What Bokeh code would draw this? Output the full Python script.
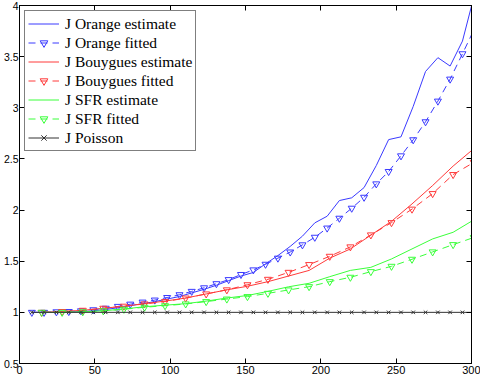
from bokeh.plotting import figure
from bokeh.models import (LinearAxis, FixedTicker, Legend, LegendItem, Range1d,
                          CustomLabelingPolicy)
from bokeh.embed import file_html
from bokeh.resources import INLINE

# ---- data ----
x_orange = [8.2, 16.3, 24.5, 32.7, 40.8, 49.0, 57.2, 65.3, 73.5, 81.7,
            89.8, 98.0, 106.2, 114.3, 122.5, 130.7, 138.8, 147.0, 155.2, 163.3,
            171.5, 179.7, 187.8, 196.0, 204.2, 212.3, 220.5, 228.7, 236.8, 245.0,
            253.2, 261.3, 269.5, 277.7, 285.8, 294.0, 302.2]
orange_estimate = [1.0, 1.0, 1.0, 1.003, 1.008, 1.015, 1.028, 1.045, 1.065, 1.085,
                   1.105, 1.13, 1.155, 1.19, 1.225, 1.265, 1.31, 1.355, 1.39, 1.474,
                   1.555, 1.645, 1.745, 1.875, 1.94, 2.093, 2.12, 2.22, 2.435, 2.689,
                   2.716, 3.013, 3.355, 3.49, 3.408, 3.652, 4.12]
orange_fitted = [1.0, 1.0, 1.005, 1.008, 1.015, 1.025, 1.04, 1.058, 1.08, 1.1,
                 1.12, 1.145, 1.172, 1.205, 1.24, 1.28, 1.32, 1.37, 1.415, 1.47,
                 1.53, 1.59, 1.66, 1.734, 1.824, 1.92, 2.018, 2.125, 2.256, 2.377,
                 2.53, 2.687, 2.863, 3.065, 3.28, 3.528, 3.78]

x_bs = [14.7, 28.3, 42.0, 55.6, 69.3, 83.0, 96.6, 110.3, 123.9, 137.6, 151.3,
        164.9, 178.6, 192.2, 205.9, 219.6, 233.2, 246.9, 260.5, 274.2, 287.8, 301.5]
bouygues_estimate = [1.0, 1.008, 1.02, 1.04, 1.06, 1.085, 1.11, 1.14, 1.18, 1.22, 1.255,
                     1.30, 1.355, 1.41, 1.53, 1.62, 1.755, 1.89, 2.06, 2.24, 2.43, 2.60]
bouygues_fitted = [1.0, 1.008, 1.02, 1.04, 1.06, 1.082, 1.105, 1.14, 1.18, 1.22, 1.27,
                   1.323, 1.391, 1.467, 1.548, 1.64, 1.757, 1.877, 2.009, 2.161, 2.347, 2.466]
sfr_estimate = [1.0, 1.0, 1.005, 1.015, 1.033, 1.055, 1.07, 1.085, 1.11, 1.14, 1.165,
                1.205, 1.25, 1.284, 1.349, 1.41, 1.44, 1.522, 1.62, 1.718, 1.783, 1.904]
sfr_fitted = [1.0, 1.0, 1.005, 1.015, 1.03, 1.05, 1.065, 1.082, 1.105, 1.13, 1.154,
              1.186, 1.219, 1.251, 1.30, 1.343, 1.398, 1.45, 1.519, 1.591, 1.662, 1.732]

j_poisson = [1.0, 1.0, 1.0, 1.0, 1.0, 1.0, 1.0, 1.0, 1.0, 1.0,
             1.0, 1.0, 1.0, 1.0, 1.0, 1.0, 1.0, 1.0, 1.0, 1.0,
             1.0, 1.0, 1.0, 1.0, 1.0, 1.0, 1.0, 1.0, 1.0, 1.0,
             1.0, 1.0, 1.0, 1.0, 1.0, 1.0, 1.0]

x_ticks = [0, 50, 100, 150, 200, 250, 300]
x_tick_labels = ["0", "50", "100", "150", "200", "250", "300"]
y_ticks = [0.5, 1, 1.5, 2, 2.5, 3, 3.5, 4]
y_tick_labels = ["0.5", "1", "1.5", "2", "2.5", "3", "3.5", "4"]

labels = ["J Orange estimate", "J Orange fitted", "J Bouygues estimate",
          "J Bouygues fitted", "J SFR estimate", "J SFR fitted", "J Poisson"]

BLUE = "#3a3aff"
RED = "#ff3a3a"
GREEN = "#3aff3a"
DASH = "7 5"

p = figure(width=480, height=376, output_backend="svg", toolbar_location=None,
           x_range=Range1d(0, 300), y_range=Range1d(0.5, 4),
           min_border_left=0, min_border_right=9, min_border_top=5, min_border_bottom=0,
           background_fill_color="white", border_fill_color="white")
p.grid.visible = False
p.outline_line_color = "black"

def style_axis(ax, ticks, overrides, show_labels=True, size="11px", standoff=2):
    ax.ticker = FixedTicker(ticks=ticks)
    ax.major_tick_in = 5
    ax.major_tick_out = 0
    ax.minor_tick_line_color = None
    ax.axis_line_color = "black"
    ax.major_tick_line_color = "black"
    if show_labels:
        ax.major_label_overrides = overrides
        ax.major_label_text_font = "Liberation Sans"
        ax.major_label_text_font_size = size
        ax.major_label_text_color = "black"
        ax.major_label_standoff = standoff
    else:
        ax.major_label_text_font_size = "0px"
        ax.major_label_standoff = 0
        ax.major_label_policy = CustomLabelingPolicy(code="return new Set()")

style_axis(p.xaxis[0], x_ticks, dict(zip(x_ticks, x_tick_labels)))
style_axis(p.yaxis[0], y_ticks, dict(zip(y_ticks, y_tick_labels)), size="10.5px", standoff=1)
top = LinearAxis()
style_axis(top, x_ticks, {}, show_labels=False)
p.add_layout(top, "above")
right = LinearAxis()
style_axis(right, y_ticks, {}, show_labels=False)
p.add_layout(right, "right")

lw = 1
ms = 7
r_oe = p.line(x_orange, orange_estimate, line_color=BLUE, line_width=lw)
r_of = p.line(x_orange, orange_fitted, line_color=BLUE, line_width=lw, line_dash=DASH)
m_of = p.scatter(x_orange, orange_fitted, marker="inverted_triangle", size=ms,
                 line_color=BLUE, fill_color=None, line_width=lw)
r_be = p.line(x_bs, bouygues_estimate, line_color=RED, line_width=lw)
r_bf = p.line(x_bs, bouygues_fitted, line_color=RED, line_width=lw, line_dash=DASH)
m_bf = p.scatter(x_bs, bouygues_fitted, marker="inverted_triangle", size=ms,
                 line_color=RED, fill_color=None, line_width=lw)
r_se = p.line(x_bs, sfr_estimate, line_color=GREEN, line_width=lw)
r_sf = p.line(x_bs, sfr_fitted, line_color=GREEN, line_width=lw, line_dash=DASH)
m_sf = p.scatter(x_bs, sfr_fitted, marker="inverted_triangle", size=ms,
                 line_color=GREEN, fill_color=None, line_width=lw)
r_p = p.line(x_orange, j_poisson, line_color="#333333", line_width=lw)
m_p = p.scatter(x_orange, j_poisson, marker="x", size=5, line_color="#333333", line_width=lw)

items = [
    LegendItem(label=labels[0], renderers=[r_oe]),
    LegendItem(label=labels[1], renderers=[r_of, m_of]),
    LegendItem(label=labels[2], renderers=[r_be]),
    LegendItem(label=labels[3], renderers=[r_bf, m_bf]),
    LegendItem(label=labels[4], renderers=[r_se]),
    LegendItem(label=labels[5], renderers=[r_sf, m_sf]),
    LegendItem(label=labels[6], renderers=[r_p, m_p]),
]
legend = Legend(items=items, location="top_left", margin=5, padding=3, spacing=0,
                label_height=19, glyph_height=19, glyph_width=31, label_standoff=6,
                label_text_font="'Liberation Serif', serif", label_text_font_size="15.5px",
                label_text_color="black",
                border_line_color="black", border_line_width=1,
                background_fill_color="white", background_fill_alpha=1.0)
p.add_layout(legend)

open("out.html", "w").write(file_html(p, INLINE))
